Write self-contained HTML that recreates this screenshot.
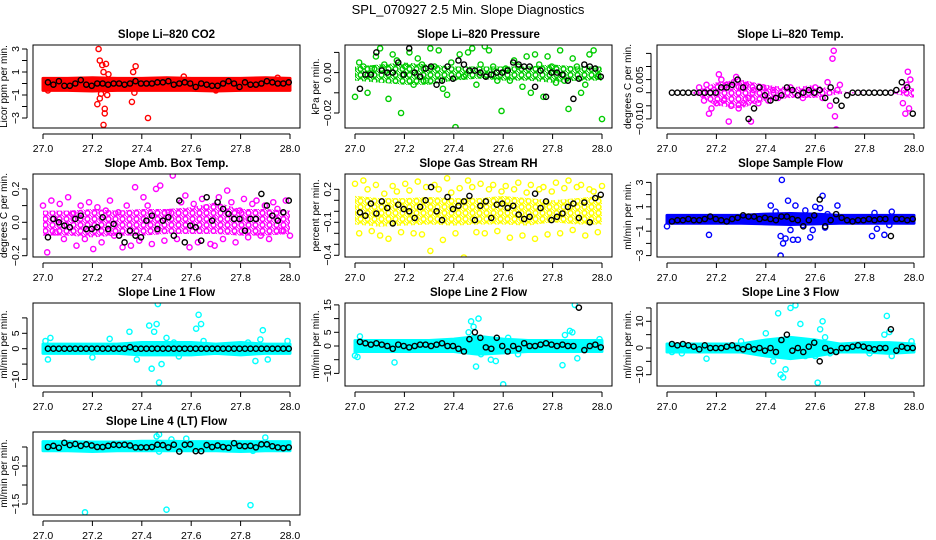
<!DOCTYPE html>
<html><head><meta charset="utf-8"><style>
html,body{margin:0;padding:0;background:#fff}
svg{display:block;font-family:"Liberation Sans",sans-serif}
</style></head><body>
<svg id="c" width="936" height="540" viewBox="0 0 936 540" xmlns="http://www.w3.org/2000/svg">
<text x="468" y="14" text-anchor="middle" font-size="13">SPL_070927  2.5 Min. Slope Diagnostics</text>
</svg>
<script>
const xTicks=[27.0,27.2,27.4,27.6,27.8,28.0];
const xTickLabels=["27.0","27.2","27.4","27.6","27.8","28.0"];
// CO2
const co2Band=[[-0.6,0.45],[-0.6,0.45],[-0.65,0.5],[-0.6,0.45],[-0.6,0.45],[-0.6,0.5],[-0.6,0.45],[-0.65,0.45],[-0.6,0.45],[-0.6,0.5],[-0.6,0.45]];
const co2Pts=[[27.225,3.0],[27.23,2.0],[27.24,1.6],[27.255,1.7],[27.245,1.0],[27.265,0.8],[27.26,0.3],[27.235,-0.9],[27.23,-1.3],[27.22,-1.8],[27.25,-2.2],[27.25,-2.6],[27.245,-3.6],[27.26,-1.0],[27.365,1.0],[27.375,1.5],[27.36,-1.6],[27.37,-0.8],[27.425,-3.0],[27.57,0.6],[27.02,-0.6],[27.7,-0.6],[27.95,0.5]];
const co2Black=[0.1,-0.1,0.2,-0.2,-0.2,0.0,0.3,-0.1,-0.2,0.0,0.0,-0.1,0.0,0.0,-0.1,0.0,0.2,0.0,0.0,0.0,0.1,0.1,0.2,-0.1,0.0,0.1,0.0,-0.3,0.0,-0.1,-0.2,-0.2,0.0,0.2,0.0,-0.3,0.1,-0.1,-0.1,0.0,0.2,0.1,0.0,0.0,0.1];
// Pressure
const presBand=[[-0.004,0.003],[-0.005,0.004],[-0.006,0.005],[-0.006,0.004],[-0.004,0.003],[-0.003,0.003],[-0.004,0.003],[-0.004,0.003],[-0.005,0.004],[-0.004,0.003],[-0.004,0.003]];
const presPts=[-0.012,0.005,0.003,-0.01,0.002,0.008,0.012,0.004,-0.013,0.009,0.006,-0.02,0.003,0.01,-0.006,0.007,0.004,-0.004,0.012,0.003,0.011,-0.008,-0.011,0.005,-0.027,0.009,-0.002,0.01,0.012,-0.006,0.004,0.013,0.011,0.003,-0.004,-0.019,0.002,-0.004,0.006,0.003,-0.007,0.008,-0.01,0.009,0.004,-0.012,0.008,0.003,-0.005,0.011,-0.004,-0.018,0.007,0.003,-0.01,-0.006,0.009,0.011,-0.002,-0.023];
const presBlack=[-0.008,-0.001,-0.001,0.010,0.001,0.000,0.000,0.005,-0.001,0.012,0.000,-0.002,0.002,0.003,-0.006,-0.004,0.003,-0.003,0.006,0.004,0.001,0.001,0.000,-0.002,-0.001,0.000,0.000,0.001,0.005,0.004,0.003,0.003,-0.007,0.001,-0.012,0.000,0.000,-0.001,-0.004,-0.013,-0.003,0.004,0.003,0.002,-0.002];
// Li-820 Temp
const tempPts=[[27.13,0.002],[27.15,-0.003],[27.16,0.003],[27.17,-0.008],[27.18,-0.006],[27.19,0.001],[27.2,-0.004],[27.21,0.007],[27.22,0.005],[27.23,-0.003],[27.24,0.003],[27.25,-0.011],[27.26,-0.005],[27.27,0.004],[27.28,0.006],[27.29,-0.006],[27.3,0.002],[27.31,-0.004],[27.32,0.003],[27.33,-0.002],[27.34,-0.011],[27.35,0.001],[27.37,-0.004],[27.39,0.002],[27.41,-0.003],[27.43,0.001],[27.45,-0.002],[27.5,0.002],[27.55,-0.002],[27.6,0.002],[27.63,-0.002],[27.65,0.004],[27.66,-0.005],[27.67,0.013],[27.675,0.016],[27.68,-0.009],[27.685,-0.014],[27.69,0.001],[27.7,0.003],[27.955,-0.004],[27.96,0.001],[27.965,-0.008],[27.97,0.003],[27.975,0.008],[27.98,-0.006],[27.985,0.005]];
const tempBand=[[0,0],[0,0],[-0.005,0.004],[-0.006,0.005],[-0.003,0.003],[-0.002,0.002],[-0.002,0.003],[-0.0005,0.0005],[0,0],[0,0],[-0.002,0.002]];
const tempBlack=[0,0,0,0,0,0,0,0,0,0.002,0.002,0.003,0.005,0.002,-0.01,-0.006,0.002,-0.001,-0.003,-0.002,-0.001,0.002,0.001,-0.001,0,0.001,0,0.001,-0.002,0.002,-0.003,-0.005,-0.001,0,0,0,0,0,0,0,0,0.001,0.004,0.002,-0.008];
// Amb Box Temp
const ambBand=[[-0.08,0.07],[-0.08,0.07],[-0.09,0.08],[-0.08,0.07],[-0.08,0.08],[-0.07,0.08],[-0.07,0.09],[-0.07,0.12],[-0.08,0.08],[-0.08,0.08],[-0.07,0.07]];
const ambPts=[0.1,-0.18,0.13,-0.06,0.11,-0.1,0.15,0.05,-0.14,0.1,-0.1,0.12,-0.16,0.09,-0.12,0.07,0.13,-0.08,0.06,-0.15,0.1,-0.14,0.21,-0.11,0.15,0.1,-0.13,0.2,0.22,-0.11,0.06,0.28,-0.1,0.12,0.16,-0.15,0.11,-0.12,0.14,0.09,-0.13,-0.14,0.15,-0.1,0.19,0.12,-0.12,0.07,0.14,-0.09,0.11,0.13,-0.08,0.1,-0.1,0.12,0.08,-0.05,0.13,-0.08];
const ambBlack=[-0.09,0.02,0.0,-0.02,-0.03,0.02,0.04,-0.04,-0.04,-0.03,0.03,-0.04,-0.01,-0.08,-0.12,-0.05,-0.08,-0.09,0.01,0.04,-0.04,0.01,0.03,-0.08,0.13,-0.12,-0.02,-0.03,-0.11,0.15,0.01,0.12,0.08,0.05,0.02,0.02,-0.05,0.02,0.02,0.17,0.1,0.04,0.01,0.06,0.13];
// Gas RH
const rhBand=[[-0.12,0.14],[-0.14,0.12],[-0.13,0.12],[-0.12,0.13],[-0.13,0.12],[-0.12,0.12],[-0.12,0.14],[-0.13,0.12],[-0.1,0.1],[-0.12,0.12],[-0.12,0.14]];
const rhPts=[0.25,-0.2,0.28,0.2,-0.18,0.24,-0.22,0.16,-0.25,0.23,0.18,-0.19,0.25,0.19,-0.2,0.27,-0.21,0.22,-0.36,0.24,0.2,-0.26,0.3,0.17,-0.2,0.21,-0.42,0.28,0.22,-0.19,0.25,-0.2,0.2,0.24,-0.18,0.18,0.23,-0.24,0.2,0.26,-0.22,0.17,0.24,-0.25,0.2,0.22,-0.21,0.18,0.26,-0.2,0.21,0.28,-0.17,0.22,0.24,-0.22,0.2,0.18,-0.19,0.23];
const rhBlack=[-0.01,-0.04,0.07,-0.02,0.09,0.03,-0.11,0.06,0.02,0.0,-0.06,0.04,0.1,0.22,0.0,-0.08,0.13,0.02,0.05,0.09,0.14,-0.08,0.05,0.09,-0.06,0.06,0.07,0.03,0.05,-0.03,-0.07,-0.05,0.16,0.03,0.09,-0.08,-0.05,-0.02,0.04,0.07,-0.06,0.08,-0.1,0.12,0.15];
// Sample Flow
const sfBand=[[-0.35,0.3],[-0.35,0.3],[-0.35,0.3],[-0.35,0.3],[-0.4,0.4],[-0.45,0.45],[-0.4,0.4],[-0.35,0.3],[-0.35,0.3],[-0.35,0.3],[-0.35,0.3]];
const sfPts=[[27.0,-0.6],[27.17,-1.3],[27.42,1.1],[27.44,0.6],[27.46,-1.4],[27.465,3.2],[27.47,-2.0],[27.46,-3.0],[27.48,-1.6],[27.49,1.5],[27.5,-0.9],[27.51,-1.7],[27.53,-1.7],[27.52,1.1],[27.55,-0.5],[27.56,0.7],[27.58,-1.5],[27.59,-0.9],[27.6,1.0],[27.62,0.9],[27.63,1.9],[27.64,-0.7],[27.65,0.4],[27.69,1.1],[27.84,0.5],[27.83,-1.4],[27.85,-0.8],[27.88,-1.3],[27.91,0.6],[27.9,-0.5]];
const sfBlack=[-0.2,-0.1,-0.1,0.0,-0.1,-0.1,0.0,0.2,0.0,-0.1,-0.2,0.0,0.1,0.3,0.2,0.2,0.0,0.1,0.0,-0.1,0.2,0.2,0.0,-0.1,-0.6,-0.1,0.3,1.6,-0.6,-0.1,0.4,0.1,-0.1,-0.2,-0.1,-0.1,0.0,-0.1,0.0,0.0,-1.4,0.0,0.0,-0.1,0.0];
// Line 1
const l1Band=[[-1.5,1.5],[-1.5,1.5],[-1.5,1.5],[-1.5,1.5],[-2,2],[-2,2],[-2,2],[-1.5,1.5],[-2,2],[-1.5,1.5],[-1.5,1.5]];
const l1Pts=[[27.01,2.5],[27.02,-3.5],[27.03,3.5],[27.2,-2.8],[27.27,3.2],[27.35,5.5],[27.38,-3.5],[27.43,7.5],[27.44,-6.5],[27.45,5.5],[27.46,8],[27.465,14.5],[27.47,-11],[27.48,-5],[27.5,3.5],[27.53,2],[27.55,-2.5],[27.62,6.5],[27.63,11],[27.64,8],[27.65,2.5],[27.83,2],[27.86,-4],[27.88,3],[27.89,6],[27.91,-3.5],[27.99,2.5]];
const l1Black=[0,0,0,0,0,0,0,0,0,0,0,0,0,0,0,0.5,0,0,0,0,0,0,0,0,0,0,0,0,0,0,0,0,0,0,0,0,0,0,0,0,0,0,0,0,0];
// Line 2
const l2Band=[[-2,2],[-2,2],[-2,2],[-2,2],[-2,2.5],[-3,3.5],[-2.5,2.5],[-2,2],[-2,2],[-2,2],[-2,2]];
const l2Pts=[[27.0,-3.5],[27.01,-4],[27.02,3.5],[27.16,-6],[27.43,2],[27.46,5],[27.47,9],[27.48,7],[27.5,10],[27.48,3],[27.49,-7.5],[27.51,-3],[27.55,-5],[27.57,-5.5],[27.6,-14],[27.62,3],[27.66,-3],[27.84,-7],[27.85,4],[27.87,5.5],[27.88,5],[27.89,15],[27.9,-4.5],[27.99,2.5]];
const l2Black=[1.5,1,0.5,1,0.5,0,-1,0.5,0,-0.5,0,0.5,0.5,0,0.5,1,0,0,-1,-2,2.5,5,3,-0.5,-1,3,0,-2,0,-1,1,0,0,0.5,1,0.5,0,0.5,0,0,14,-1.5,0,0.5,-0.5];
// Line 3
const l3Band=[[-1.5,1.5],[-1.5,1.5],[-1.5,1.5],[-1.5,1.5],[-3,3],[-4,4],[-3,3],[-1.5,1.5],[-1.5,2],[-2,2],[-1.5,1.5]];
const l3Pts=[[27.02,-1.5],[27.06,-2],[27.16,-4],[27.3,2.5],[27.4,5.5],[27.43,-5],[27.45,13],[27.46,-10],[27.47,-11],[27.48,-8],[27.5,15],[27.52,16],[27.54,9],[27.56,-3],[27.6,-3],[27.61,-13],[27.62,7],[27.63,10],[27.64,4],[27.66,-2],[27.82,-2],[27.88,5],[27.89,12],[27.9,6],[27.91,-3],[27.99,2.5]];
const l3Black=[1.5,1,1.5,1,0.5,-0.5,1,0,0,0,0.5,1,0,-0.5,0.5,-0.5,0,-1,0,-1.5,3,5,-1,0,-1.5,0.5,2,-5,0,-1,-1.5,0,0,0.5,1,0.5,0,-0.5,0,0,7,-1,0.5,0,0];
// Line 4
const l4Band=[[-0.1,0.14],[-0.1,0.14],[-0.12,0.13],[-0.1,0.13],[-0.1,0.15],[-0.1,0.15],[-0.1,0.14],[-0.1,0.14],[-0.12,0.14],[-0.1,0.14],[-0.1,0.14]];
const l4Pts=[[27.17,-1.72],[27.46,0.28],[27.47,0.33],[27.47,-0.12],[27.5,-1.65],[27.52,0.2],[27.58,0.22],[27.84,-1.53],[27.85,-0.1],[27.9,0.25]];
const l4Black=[0.0,0.03,-0.02,0.11,0.05,0.08,0.03,0.07,0.04,0.0,0.0,0.03,0.06,0.05,0.06,0.04,-0.01,-0.01,-0.01,0.0,0.06,0.05,-0.01,0.06,-0.12,0.06,0.07,-0.11,-0.11,0.05,0.0,0.04,0.0,-0.02,0.1,0.03,0.02,0.03,-0.01,0.07,0.07,0.02,-0.01,-0.03,-0.01];

const NS='http://www.w3.org/2000/svg';
const svg=document.getElementById('c');
function mk(tag,attrs,parent){const e=document.createElementNS(NS,tag);for(const k in attrs)e.setAttribute(k,attrs[k]);(parent||svg).appendChild(e);return e;}
const colX=[[33,300],[345,612],[657,924]];
const rowY=[[45,128],[174,257],[303,386],[432,515]];

function panel(o){
  const [L,R]=colX[o.col],[T,B]=rowY[o.row];
  const g=mk('g',{});
  
  
  const xs=t=>(L+10)+(t-27)*(R-L-20);
  const ys=v=>o.y0-v*o.ppu;
  const clip='cl'+o.name;
  const defs=mk('defs',{},g);
  const cp=mk('clipPath',{id:clip},defs);mk('rect',{x:L,y:T,width:R-L,height:B-T},cp);
  let fill=o.color;
  if(o.sparse){
    const pid='pt'+o.name;
    const pat=mk('pattern',{id:pid,width:7,height:6,patternUnits:'userSpaceOnUse'},defs);
    mk('circle',{cx:3.5,cy:3,r:2.4,fill:'none',stroke:o.color,'stroke-width':1.6},pat);
    mk('circle',{cx:0,cy:0,r:1.2,fill:o.color},pat);
    mk('circle',{cx:7,cy:6,r:1.2,fill:o.color},pat);
    fill='url(#'+pid+')';
  }
  const pg=mk('g',{'clip-path':'url(#'+clip+')'},g);
  let top='',bot='';
  o.band.forEach((b,i)=>{const t=27+i/(o.band.length-1);top+=xs(t)+','+ys(b[1])+' ';bot=xs(t)+','+ys(b[0])+' '+bot;});
  const band=mk('polygon',{points:top+bot,fill:fill,stroke:o.sparse?'none':o.color,'stroke-width':3,'stroke-linejoin':'round'},pg);
  
  
  o.pts.forEach((p,i)=>{
    const t=Array.isArray(p)?p[0]:27+i/(o.pts.length-1);
    const v=Array.isArray(p)?p[1]:p;
    const c=mk('circle',{cx:xs(t),cy:ys(v),r:2.6,fill:'none',stroke:o.color,'stroke-width':1.4},pg);
    
    
  });
  o.black.forEach((v,i)=>{
    const t=27.02+i*(0.975/(o.black.length-1));
    const c=mk('circle',{cx:xs(t),cy:ys(v),r:2.6,fill:'none',stroke:'#000','stroke-width':1.4},pg);
    
    
  });
  mk('rect',{x:L,y:T,width:R-L,height:B-T,fill:'none',stroke:'#000','stroke-width':1},g);
  mk('line',{x1:xs(27),x2:xs(28),y1:B+6,y2:B+6,stroke:'#000'},g);
  xTicks.forEach((t,i)=>{
    mk('line',{x1:xs(t),x2:xs(t),y1:B+6,y2:B+11,stroke:'#000'},g);
    const tx=mk('text',{x:xs(t),y:B+24,'text-anchor':'middle','font-size':10.5},g);tx.textContent=xTickLabels[i];
    
    
  });
  const yt=o.yticks;
  mk('line',{x1:L-6,x2:L-6,y1:ys(yt[0]),y2:ys(yt[yt.length-1]),stroke:'#000'},g);
  yt.forEach(v=>mk('line',{x1:L-11,x2:L-6,y1:ys(v),y2:ys(v),stroke:'#000'},g));
  o.ylabels.forEach((v,i)=>{
    const y=ys(v);
    const tx=mk('text',{x:L-14,y:y,'text-anchor':'middle','font-size':10.5,transform:`rotate(-90 ${L-14} ${y})`},g);
    tx.textContent=o.ylabelText[i];
    
    
  });
  const yl=mk('text',{x:L-26,y:(T+B)/2,'text-anchor':'middle','font-size':10,transform:`rotate(-90 ${L-26} ${(T+B)/2})`},g);
  yl.textContent=o.ylab;
  
  
  const ti=mk('text',{x:(L+R)/2,y:T-7,'text-anchor':'middle','font-size':11.5,'font-weight':'bold'},g);
  ti.textContent=o.title;
  
  
}

panel({name:'co2-panel',col:0,row:0,y0:83.5,ppu:11.5,color:'#ff0000',band:co2Band,pts:co2Pts,black:co2Black,yticks:[3,2,1,0,-1,-2,-3],ylabels:[3,1,-1,-3],ylabelText:['3','1','\u22121','\u22123'],ylab:'Licor ppm per min.',title:'Slope Li\u2013820 CO2'});
panel({name:'pressure-panel',sparse:true,col:1,row:0,y0:72.6,ppu:2020,color:'#00cc00',band:presBand,pts:presPts,black:presBlack,yticks:[0.01,0,-0.01,-0.02],ylabels:[0,-0.02],ylabelText:['0.00','\u22120.02'],ylab:'kPa per min.',title:'Slope Li\u2013820 Pressure'});
panel({name:'li820-temp-panel',sparse:true,col:2,row:0,y0:92.7,ppu:2620,color:'#ff00ff',band:tempBand,pts:tempPts,black:tempBlack,yticks:[0.015,0.01,0.005,0,-0.005,-0.01],ylabels:[0.005,-0.01],ylabelText:['0.005','\u22120.010'],ylab:'degrees C per min.',title:'Slope Li\u2013820 Temp.'});
panel({name:'amb-box-temp-panel',sparse:true,col:0,row:1,y0:222.3,ppu:167,color:'#ff00ff',band:ambBand,pts:ambPts,black:ambBlack,yticks:[0.2,0.1,0,-0.1,-0.2],ylabels:[0.2,0,-0.2],ylabelText:['0.2','0.0','\u22120.2'],ylab:'degrees C per min.',title:'Slope Amb. Box Temp.'});
panel({name:'gas-rh-panel',sparse:true,col:1,row:1,y0:211.3,ppu:110,color:'#ffff00',band:rhBand,pts:rhPts,black:rhBlack,yticks:[0.2,0.1,0,-0.1,-0.2,-0.3,-0.4],ylabels:[0.2,-0.1,-0.4],ylabelText:['0.2','\u22120.1','\u22120.4'],ylab:'percent per min.',title:'Slope Gas Stream RH'});
panel({name:'sample-flow-panel',col:2,row:1,y0:219,ppu:12.2,color:'#0000ff',band:sfBand,pts:sfPts,black:sfBlack,yticks:[3,2,1,0,-1,-2,-3],ylabels:[3,1,-1,-3],ylabelText:['3','1','\u22121','\u22123'],ylab:'ml/min per min.',title:'Slope Sample Flow'});
panel({name:'line1-flow-panel',col:0,row:2,y0:348.7,ppu:3.08,color:'#00ffff',band:l1Band,pts:l1Pts,black:l1Black,yticks:[10,5,0,-5,-10],ylabels:[5,0,-10],ylabelText:['5','0','\u221210'],ylab:'ml/min per min.',title:'Slope Line 1 Flow'});
panel({name:'line2-flow-panel',col:1,row:2,y0:346,ppu:2.74,color:'#00ffff',band:l2Band,pts:l2Pts,black:l2Black,yticks:[15,10,5,0,-5,-10],ylabels:[15,5,0,-10],ylabelText:['15','5','0','\u221210'],ylab:'ml/min per min.',title:'Slope Line 2 Flow'});
panel({name:'line3-flow-panel',col:2,row:2,y0:348,ppu:2.67,color:'#00ffff',band:l3Band,pts:l3Pts,black:l3Black,yticks:[15,10,5,0,-5,-10],ylabels:[10,0,-10],ylabelText:['10','0','\u221210'],ylab:'ml/min per min.',title:'Slope Line 3 Flow'});
panel({name:'line4-flow-panel',col:0,row:3,y0:447,ppu:38,color:'#00ffff',band:l4Band,pts:l4Pts,black:l4Black,yticks:[0,-0.5,-1,-1.5],ylabels:[-0.5,-1.5],ylabelText:['\u22120.5','\u22121.5'],ylab:'ml/min per min.',title:'Slope Line 4 (LT) Flow'});
</script>
</body></html>
